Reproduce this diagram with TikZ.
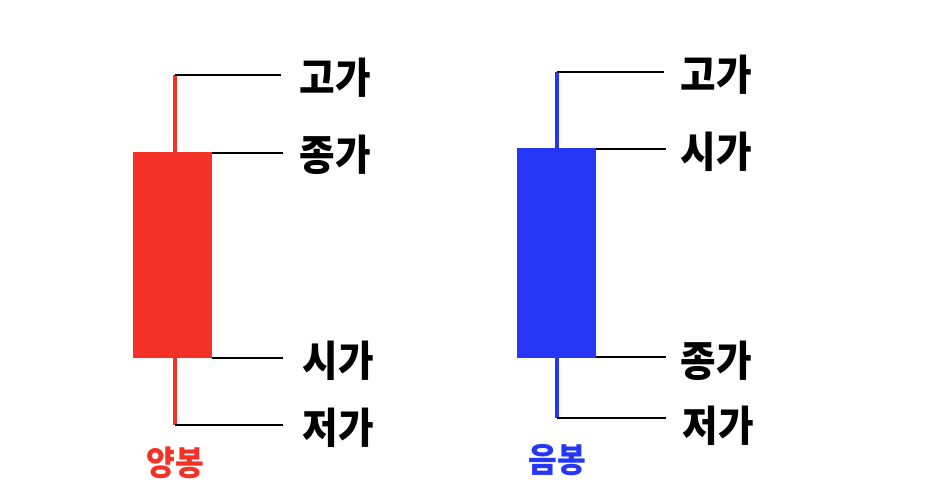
\documentclass[tikz,border=0pt]{standalone}
\usepackage{fontspec}
\newfontfamily\kr{Noto Sans CJK KR Black}
\definecolor{cred}{HTML}{F43127}
\definecolor{cblue}{HTML}{2537F5}
\begin{document}
\begin{tikzpicture}[x=1pt,y=-1pt,
  lbl/.style={font=\kr\fontsize{42}{44}\selectfont,inner sep=0pt,xscale=0.92},
  ttl/.style={font=\kr\fontsize{34}{36}\selectfont,inner sep=0pt,xscale=0.92},
  lead/.style={line width=1.3pt,black}]
\useasboundingbox[fill=white] (0,0) rectangle (945,503);
% red
\draw[cred,line width=4pt] (175,75) -- (175,425);
\fill[cred] (133,152) rectangle (212,358);
\coordinate (rh) at (175,75); \coordinate (rc) at (212,153);
\coordinate (ro) at (212,358); \coordinate (rl) at (175,425);
\node[lbl] (r1) at (335,78) {고가};
\node[lbl] (r2) at (335,155) {종가};
\node[lbl] (r3) at (338,361) {시가};
\node[lbl] (r4) at (338,428) {저가};
\draw[lead] (rh) -- (281,75);
\draw[lead] (rc) -- (283,153);
\draw[lead] (ro) -- (283,358);
\draw[lead] (rl) -- (283,425);
\node[ttl,text=cred] (rt) at (175,463) {양봉};
% blue
\draw[cblue,line width=4pt] (557,72) -- (557,418);
\fill[cblue] (517,148) rectangle (596,358);
\coordinate (bh) at (557,72); \coordinate (bo) at (596,149);
\coordinate (bc) at (596,357); \coordinate (bl) at (557,418);
\node[lbl] (b1) at (716,75) {고가};
\node[lbl] (b2) at (716,152) {시가};
\node[lbl] (b3) at (716,361) {종가};
\node[lbl] (b4) at (718,426) {저가};
\draw[lead] (bh) -- (664,72);
\draw[lead] (bo) -- (666,149);
\draw[lead] (bc) -- (666,357);
\draw[lead] (bl) -- (666,418);
\node[ttl,text=cblue] (bt) at (557,460) {음봉};
\end{tikzpicture}
\end{document}
